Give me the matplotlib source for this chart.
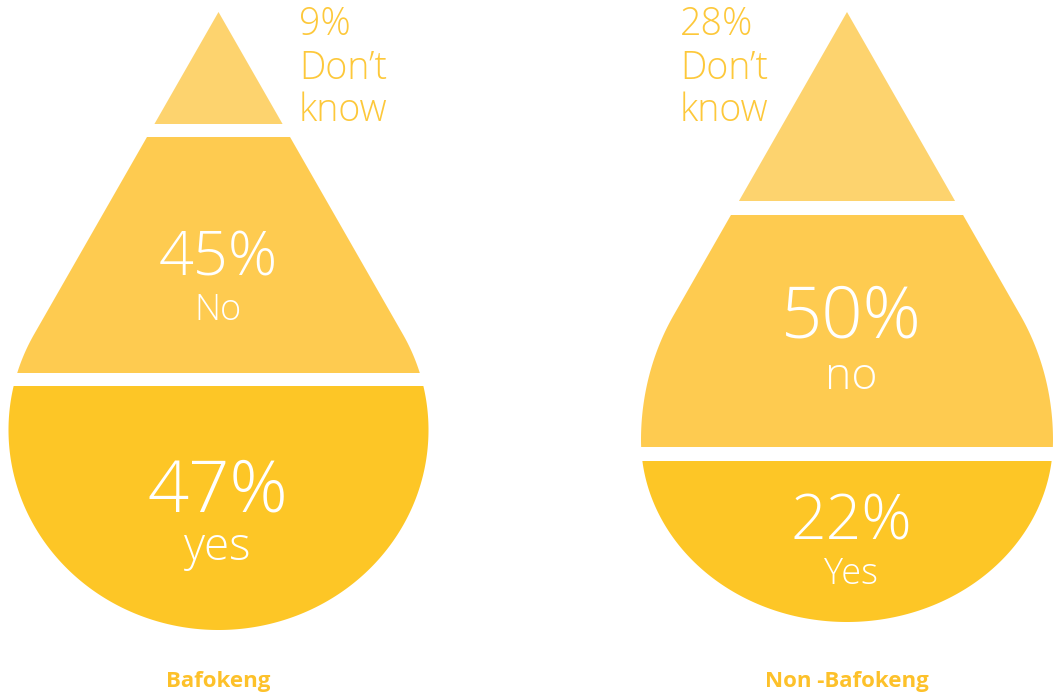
import numpy as np
import matplotlib
matplotlib.use('Agg')
import matplotlib.pyplot as plt
from matplotlib.patches import Polygon

# ── Data ──────────────────────────────────────────────────────────────────────
GROUPS     = ['Bafokeng', 'Non -Bafokeng']
DONT_KNOW  = [9, 28]
NO_PCT     = [45, 50]
YES_PCT    = [47, 22]
NO_LABELS  = ['No', 'no']
YES_LABELS = ['yes', 'Yes']

# ── Style ─────────────────────────────────────────────────────────────────────
C_TOP   = '#FDD36E'
C_MID   = '#FECB50'
C_BOT   = '#FDC626'
C_TEXT  = '#FDC83A'
C_TITLE = '#FDC12A'
FONT    = ['Open Sans', 'DejaVu Sans']

W, H = 1061, 697
fig = plt.figure(figsize=(W / 100, H / 100), dpi=100)
ax = fig.add_axes([0, 0, 1, 1])
ax.set_xlim(0, W)
ax.set_ylim(H, 0)
ax.axis('off')

# drop geometry (pixel units): centre x, apex y, widest y, half width, upper/lower semi-axis
DROPS = [
    dict(cx=218.5, apex=12, cy=430, a=210, b_up=200, b_low=200,
         bands=[(12, 124), (137, 373), (386, 630)]),
    dict(cx=847, apex=12, cy=440, a=206, b_up=231, b_low=182,
         bands=[(12, 201), (215, 447), (461, 622)]),
]


def half_width(d, y):
    D = d['cy'] - d['apex']
    t = d['cy'] - d['b_up'] ** 2 / D
    slope = d['a'] / np.sqrt(D ** 2 - d['b_up'] ** 2)
    w = np.where(
        y >= d['cy'],
        d['a'] * np.sqrt(np.clip(1 - ((y - d['cy']) / d['b_low']) ** 2, 0, 1)),
        np.where(y >= t,
                 d['a'] * np.sqrt(np.clip(1 - ((d['cy'] - y) / d['b_up']) ** 2, 0, 1)),
                 slope * (y - d['apex'])))
    return w


def band_poly(d, y0, y1):
    s = (1 - np.cos(np.linspace(0, np.pi, 800))) / 2
    ys = y0 + (y1 - y0) * s
    w = half_width(d, ys)
    left = np.column_stack([d['cx'] - w, ys])
    right = np.column_stack([d['cx'] + w, ys])[::-1]
    return np.vstack([left, right])


for i, d in enumerate(DROPS):
    for (y0, y1), col in zip(d['bands'], [C_TOP, C_MID, C_BOT]):
        ax.add_patch(Polygon(band_poly(d, y0, y1), closed=True,
                             facecolor=col, edgecolor='none'))

# ── Labels ────────────────────────────────────────────────────────────────────
def txt(x, y, s, size, color='white', ha='center', weight='light'):
    ax.text(x, y, s, fontsize=size, color=color, ha=ha, va='baseline',
            family=FONT, fontweight=weight)

# don't know (outside)
dk_x  = [299, 680]
for i in range(2):
    txt(dk_x[i], 35, f'{DONT_KNOW[i]}%', 27, C_TEXT, ha='left')
    txt(dk_x[i], 79, 'Don’t', 27, C_TEXT, ha='left')
    txt(dk_x[i], 121, 'know', 27, C_TEXT, ha='left')

# Bafokeng
txt(218, 276, f'{NO_PCT[0]}%', 44)
txt(218, 320, NO_LABELS[0], 26)
txt(218, 511, f'{YES_PCT[0]}%', 52)
txt(218, 560, YES_LABELS[0], 33)

# Non-Bafokeng
txt(851, 338, f'{NO_PCT[1]}%', 52)
txt(851, 389, NO_LABELS[1], 32)
txt(851, 540, f'{YES_PCT[1]}%', 45)
txt(851, 584, YES_LABELS[1], 26)

# group names
for x, g in zip([218, 847], GROUPS):
    txt(x, 687, g, 16, C_TITLE, weight='bold')

fig.savefig('out.png', dpi=100, facecolor='white')
